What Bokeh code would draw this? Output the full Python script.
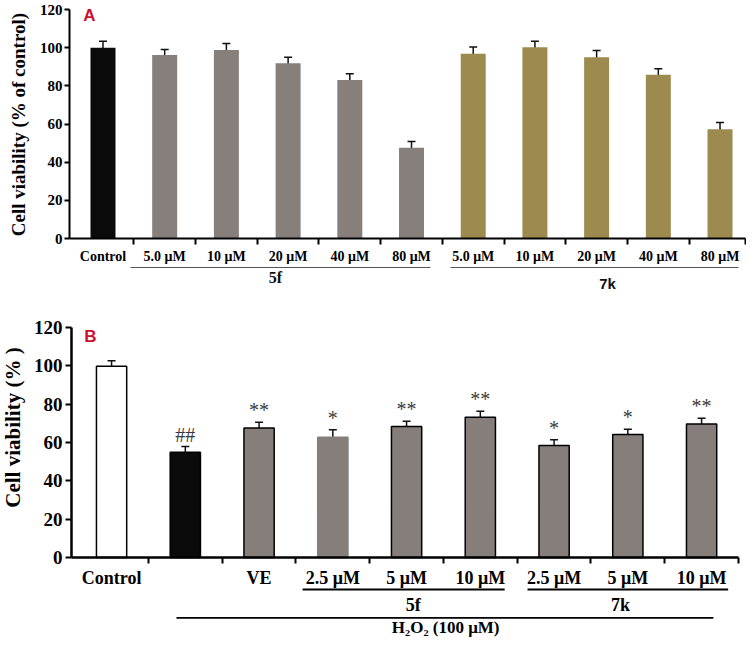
import math
from bokeh.plotting import figure
from bokeh.layouts import column
from bokeh.models import Range1d, FixedTicker, Whisker, TeeHead, ColumnDataSource
from bokeh.core.properties import value
from bokeh.embed import file_html
from bokeh.resources import INLINE

# ---------------- data: panel A ----------------
a_labels = ["Control", "5.0 μM", "10 μM", "20 μM", "40 μM", "80 μM",
            "5.0 μM", "10 μM", "20 μM", "40 μM", "80 μM"]
a_values = [100.0, 96.2, 98.8, 91.8, 83.0, 47.5, 96.8, 100.2, 95.0, 85.8, 57.3]
a_errors = [3.4, 2.8, 3.4, 3.2, 3.3, 3.3, 3.5, 3.2, 3.5, 3.1, 3.5]
a_groups = ["5f", "7k"]
a_colors = ["#0a0a0a"] + ["#877f7c"] * 5 + ["#9c8a4e"] * 5

# ---------------- data: panel B ----------------
b_labels = ["Control", "", "VE", "2.5 μM", "5 μM", "10 μM", "2.5 μM", "5 μM", "10 μM"]
b_values = [99.8, 54.9, 67.6, 62.8, 68.3, 73.2, 58.4, 64.2, 69.7]
b_errors = [2.8, 3.0, 3.0, 3.8, 2.8, 3.1, 3.0, 2.7, 3.0]
b_signif = ["", "##", "**", "*", "**", "**", "*", "*", "**"]
b_groups = ["5f", "7k"]
b_treatment = "H₂O₂ (100 μM)"
b_fill = ["#ffffff", "#0a0a0a", "#857e7b", "#857e7b", "#857e7b", "#857e7b", "#857e7b", "#857e7b", "#857e7b"]
b_line = ["#000000", "#000000", "#000000", "#857e7b", "#000000", "#000000", "#000000", "#000000", "#000000"]

y_ticks = [0, 20, 40, 60, 80, 100, 120]
SERIF = value("Liberation Serif")
SANS = value("Liberation Sans")


def base_fig(w, h, xr, yr):
    p = figure(width=w, height=h, x_range=Range1d(*xr), y_range=Range1d(*yr),
               output_backend="svg", toolbar_location=None, min_border=0)
    p.outline_line_color = None
    p.grid.visible = False
    p.background_fill_color = "white"
    p.border_fill_color = "white"
    return p


def style_axes(p, n, yfix, xend, xfont, yfont, lw, xstand, ystand, ytick):
    xa = p.xaxis[0]
    ya = p.yaxis[0]
    xa.fixed_location = 0
    ya.fixed_location = yfix
    xa.bounds = (yfix, xend)
    ya.bounds = (0, 120)
    minors = [i + 0.5 for i in range(n - 1)] + [xend]
    xa.ticker = FixedTicker(ticks=list(range(n)), minor_ticks=minors)
    xa.major_tick_out = 0
    xa.major_tick_in = 0
    xa.minor_tick_out = 6
    xa.minor_tick_in = 0
    xa.minor_tick_line_width = 2
    xa.minor_tick_line_color = "black"
    ya.ticker = FixedTicker(ticks=y_ticks)
    ya.minor_tick_out = 0
    ya.minor_tick_in = 0
    ya.major_tick_out = ytick
    ya.major_tick_in = 0
    for ax in (xa, ya):
        ax.axis_line_width = lw
        ax.axis_line_color = "black"
        ax.major_tick_line_width = 2
        ax.major_tick_line_color = "black"
        ax.major_label_text_font = "Liberation Serif"
        ax.major_label_text_font_style = "bold"
        ax.major_label_text_color = "black"
    xa.major_label_text_font_size = xfont
    ya.major_label_text_font_size = yfont
    xa.major_label_standoff = xstand
    ya.major_label_standoff = ystand
    return xa, ya


# ---------------- panel A ----------------
# category i centre at 102.5 + 61.7 i px ; y=0 at 238 px, 1.9083 px per unit
pa = base_fig(746, 300, (-1.661, 10.429), (-32.49, 124.72))
na = len(a_values)
xa, ya = style_axes(pa, na, -0.543, 10.41, "14px", "15px", 2, 4, 2, 5)
xa.major_label_overrides = {i: a_labels[i] for i in range(na)}

pa.vbar(x=list(range(na)), top=a_values, width=0.405, fill_color=a_colors, line_color=None)
srcA = ColumnDataSource(dict(x=list(range(na)),
                             lo=[v - e for v, e in zip(a_values, a_errors)],
                             hi=[v + e for v, e in zip(a_values, a_errors)]))
pa.add_layout(Whisker(base="x", lower="lo", upper="hi", source=srcA, line_width=1.5, line_color="#111111",
                      upper_head=TeeHead(size=8, line_width=1.5, line_color="#111111"),
                      lower_head=TeeHead(size=8, line_width=1.5, line_color="#111111")))

pa.segment(x0=[0.446, 5.632], y0=[-15.2, -15.2], x1=[5.308, 10.30], y1=[-15.2, -15.2],
           line_color="#555555", line_width=1)
pa.text(x=[2.796], y=[-20.4], text=[a_groups[0]], text_font=SERIF, text_font_style="bold",
        text_font_size="16px", text_align="center", text_baseline="middle", text_color="#111111")
pa.text(x=[8.177], y=[-23.6], text=[a_groups[1]], text_font=SANS, text_font_style="bold",
        text_font_size="15px", text_align="center", text_baseline="middle", text_color="#111111")
pa.text(x=[-1.369], y=[59.7], text=["Cell viability (% of control)"], angle=math.pi / 2,
        text_font=SERIF, text_font_style="bold", text_font_size="19px",
        text_align="center", text_baseline="middle", text_color="black")
pa.text(x=[-0.219], y=[116.9], text=["A"], text_font=SANS, text_font_style="bold",
        text_font_size="17px", text_align="center", text_baseline="middle", text_color="#cc1030")

# ---------------- panel B ----------------
# category i centre at 111.1 + 73.75 i px ; y=0 at 557 px, 1.9167 px per unit
pb = base_fig(746, 339, (-1.506, 8.609), (-42.78, 134.09))
nb = len(b_values)
xb, yb = style_axes(pb, nb, -0.544, 8.5, "18px", "19px", 2.5, 4, 3, 6)
xb.major_label_overrides = {i: b_labels[i] for i in range(nb)}

pb.vbar(x=list(range(nb)), top=b_values, width=0.41, fill_color=b_fill, line_color=b_line, line_width=1.5)
srcB = ColumnDataSource(dict(x=list(range(nb)),
                             lo=[v - e for v, e in zip(b_values, b_errors)],
                             hi=[v + e for v, e in zip(b_values, b_errors)],
                             sig=b_signif))
pb.add_layout(Whisker(base="x", lower="lo", upper="hi", source=srcB, line_width=1.5, line_color="#111111",
                      upper_head=TeeHead(size=8, line_width=1.5, line_color="#111111"),
                      lower_head=TeeHead(size=8, line_width=1.5, line_color="#111111")))
pb.text(x="x", y="hi", text="sig", source=srcB, text_font=SERIF, text_font_size="20px",
        text_align="center", text_baseline="bottom", y_offset=-1, text_color="#3a3a3a")

pb.segment(x0=[2.59, 5.64, 0.88], y0=[-16.7, -16.7, -31.5], x1=[5.33, 8.36, 8.16], y1=[-16.7, -16.7, -31.5],
           line_color="black", line_width=1.8)
pb.text(x=[4.09, 6.9], y=[-25.0, -25.0], text=b_groups, text_font=SERIF, text_font_style="bold",
        text_font_size="18px", text_align="center", text_baseline="middle", text_color="black")
pb.text(x=[4.53], y=[-36.6], text=[b_treatment], text_font=SERIF, text_font_style="bold",
        text_font_size="17px", text_align="center", text_baseline="middle", text_color="black")
pb.text(x=[-1.33], y=[67.8], text=["Cell viability (% )"], angle=math.pi / 2,
        text_font=SERIF, text_font_style="bold", text_font_size="21px",
        text_align="center", text_baseline="middle", text_color="black")
pb.text(x=[-0.286], y=[115.5], text=["B"], text_font=SANS, text_font_style="bold",
        text_font_size="17px", text_align="center", text_baseline="middle", text_color="#cc1030")

layout = column(pa, pb, spacing=0)
open("out.html", "w").write(file_html(layout, INLINE))
